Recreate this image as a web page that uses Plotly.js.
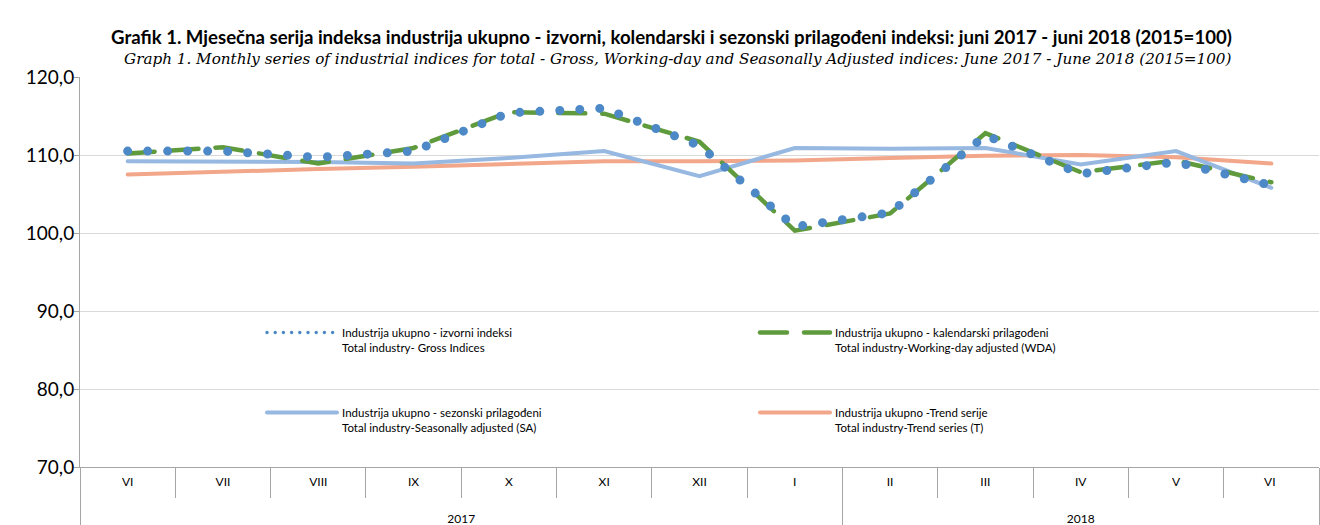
<!DOCTYPE html>
<html><head><meta charset="utf-8">
<script src="https://cdn.plot.ly/plotly-3.0.1.min.js"></script>
<style>
html,body{margin:0;padding:0;background:#fff;}
#chart{width:1320px;height:525px;}
.js-line{stroke-linecap:round;}
.legend g.traces:first-of-type .js-line{stroke-width:3.5px !important; stroke-dasharray:0px,8.2px !important;}
</style>
</head><body><div id="chart"></div>
<script>
const months = ['VI','VII','VIII','IX','X','XI','XII','I','II','III','IV','V','VI '];
const years = ['2017','2017','2017','2017','2017','2017','2017','2017','2018','2018','2018','2018','2018'];
const gross = [110.5,110.5,109.7,110.5,115.4,116.0,111.2,100.8,102.6,112.5,107.6,109.1,106.1];
const wda = [110.2,111.0,108.9,110.9,115.5,115.3,111.7,100.3,102.5,112.8,107.8,109.3,106.5];
const sa = [109.2,109.2,109.1,108.9,109.6,110.5,107.3,110.9,110.8,110.9,108.8,110.5,105.8];
const trend = [107.5,107.9,108.2,108.5,108.9,109.2,109.2,109.3,109.6,109.9,110.0,109.7,108.9];
const names = [
  'Industrija ukupno - izvorni indeksi<br>Total industry- Gross Indices',
  'Industrija ukupno - kalendarski prilagođeni<br>Total industry-Working-day adjusted (WDA)',
  'Industrija ukupno - sezonski prilagođeni<br>Total industry-Seasonally adjusted (SA)',
  'Industrija ukupno -Trend serije<br>Total industry-Trend series (T)'
];
const titleText = 'Grafik 1. Mjesečna serija indeksa industrija ukupno - izvorni, kolendarski i sezonski prilagođeni indeksi: juni 2017 - juni 2018 (2015=100)';
const subText = 'Graph 1. Monthly series of industrial indices for total - Gross, Working-day and Seasonally Adjusted indices: June 2017 - June 2018 (2015=100)';

// month labels get an empty second line so the year row sits lower, as in the reference
const small = s => '<span style="font-size:12px">' + s + '</span>';
const monthLabels = months.map(m => small(m) + '<br>\u00a0');
const yearLabels = years.map(small);
const x = [yearLabels, monthLabels];
const traces = [
  {x:x, y:trend, name:names[3], mode:'lines', line:{color:'#F2A68A', width:4}, legend:'legend2', legendrank:2},
  {x:x, y:sa, name:names[2], mode:'lines', line:{color:'#97B8E0', width:4}, legend:'legend2', legendrank:1},
  {x:x, y:wda, name:names[1], mode:'lines', line:{color:'#5F9B3C', width:4.5, dash:'27px,17px'}, legend:'legend', legendrank:2},
  {x:x, y:gross, name:names[0], mode:'lines', line:{color:'#4C89C6', width:9, dash:'0px,20px'}, legend:'legend', legendrank:1}
];
const legFont = {family:'Lato', size:11.5, color:'#000'};
const layout = {
  width:1320, height:525,
  margin:{l:80, r:1, t:77, b:58},
  paper_bgcolor:'#fff', plot_bgcolor:'#fff',
  separators:',.',
  hovermode:false,
  title:{text:'<b>'+titleText+'</b>', font:{family:'Lato', size:18.6, color:'#000'},
         xref:'container', x:0.5087, xanchor:'center', yref:'container', y:1-37/525, yanchor:'middle'},
  annotations:[{text:'<i>'+subText+'</i>', xref:'paper', yref:'paper', x:(677.5-80)/1239, y:(467-59)/390,
    xanchor:'center', yanchor:'middle', showarrow:false, font:{family:'DejaVu Serif', size:15.2, color:'#000'}}],
  xaxis:{type:'multicategory', range:[-0.5,12.5], showgrid:false, showline:true, linecolor:'#a6a6a6', linewidth:1,
    ticks:'outside', ticklen:30, tickcolor:'#a6a6a6', tickwidth:1, tickson:'boundaries',
    showdividers:true, dividercolor:'#a6a6a6', dividerwidth:1, ticklabelstandoff:0,
    tickfont:{family:'Lato', size:15, color:'#000'}, fixedrange:true},
  yaxis:{range:[70,120], dtick:10, tick0:70, tickformat:'.1f', showgrid:true, gridcolor:'#d9d9d9', gridwidth:1,
    showline:true, linecolor:'#a6a6a6', linewidth:1, ticks:'outside', ticklen:5, tickcolor:'#a6a6a6',
    ticklabelstandoff:-4,
    zeroline:false, tickfont:{family:'Lato', size:19, color:'#000'}, fixedrange:true},
  legend:{orientation:'h', x:(262-80)/1239, xanchor:'left', y:(467-340)/390, yanchor:'middle', valign:'top',
    entrywidth:408, entrywidthmode:'pixels', itemwidth:70, font:legFont, bgcolor:'rgba(0,0,0,0)', traceorder:'normal'},
  legend2:{orientation:'h', x:(262-80)/1239, xanchor:'left', y:(467-420)/390, yanchor:'middle', valign:'top',
    entrywidth:408, entrywidthmode:'pixels', itemwidth:70, font:legFont, bgcolor:'rgba(0,0,0,0)', traceorder:'normal'},
  showlegend:true
};
Plotly.newPlot('chart', traces, layout, {staticPlot:true, displayModeBar:false});
</script></body></html>
